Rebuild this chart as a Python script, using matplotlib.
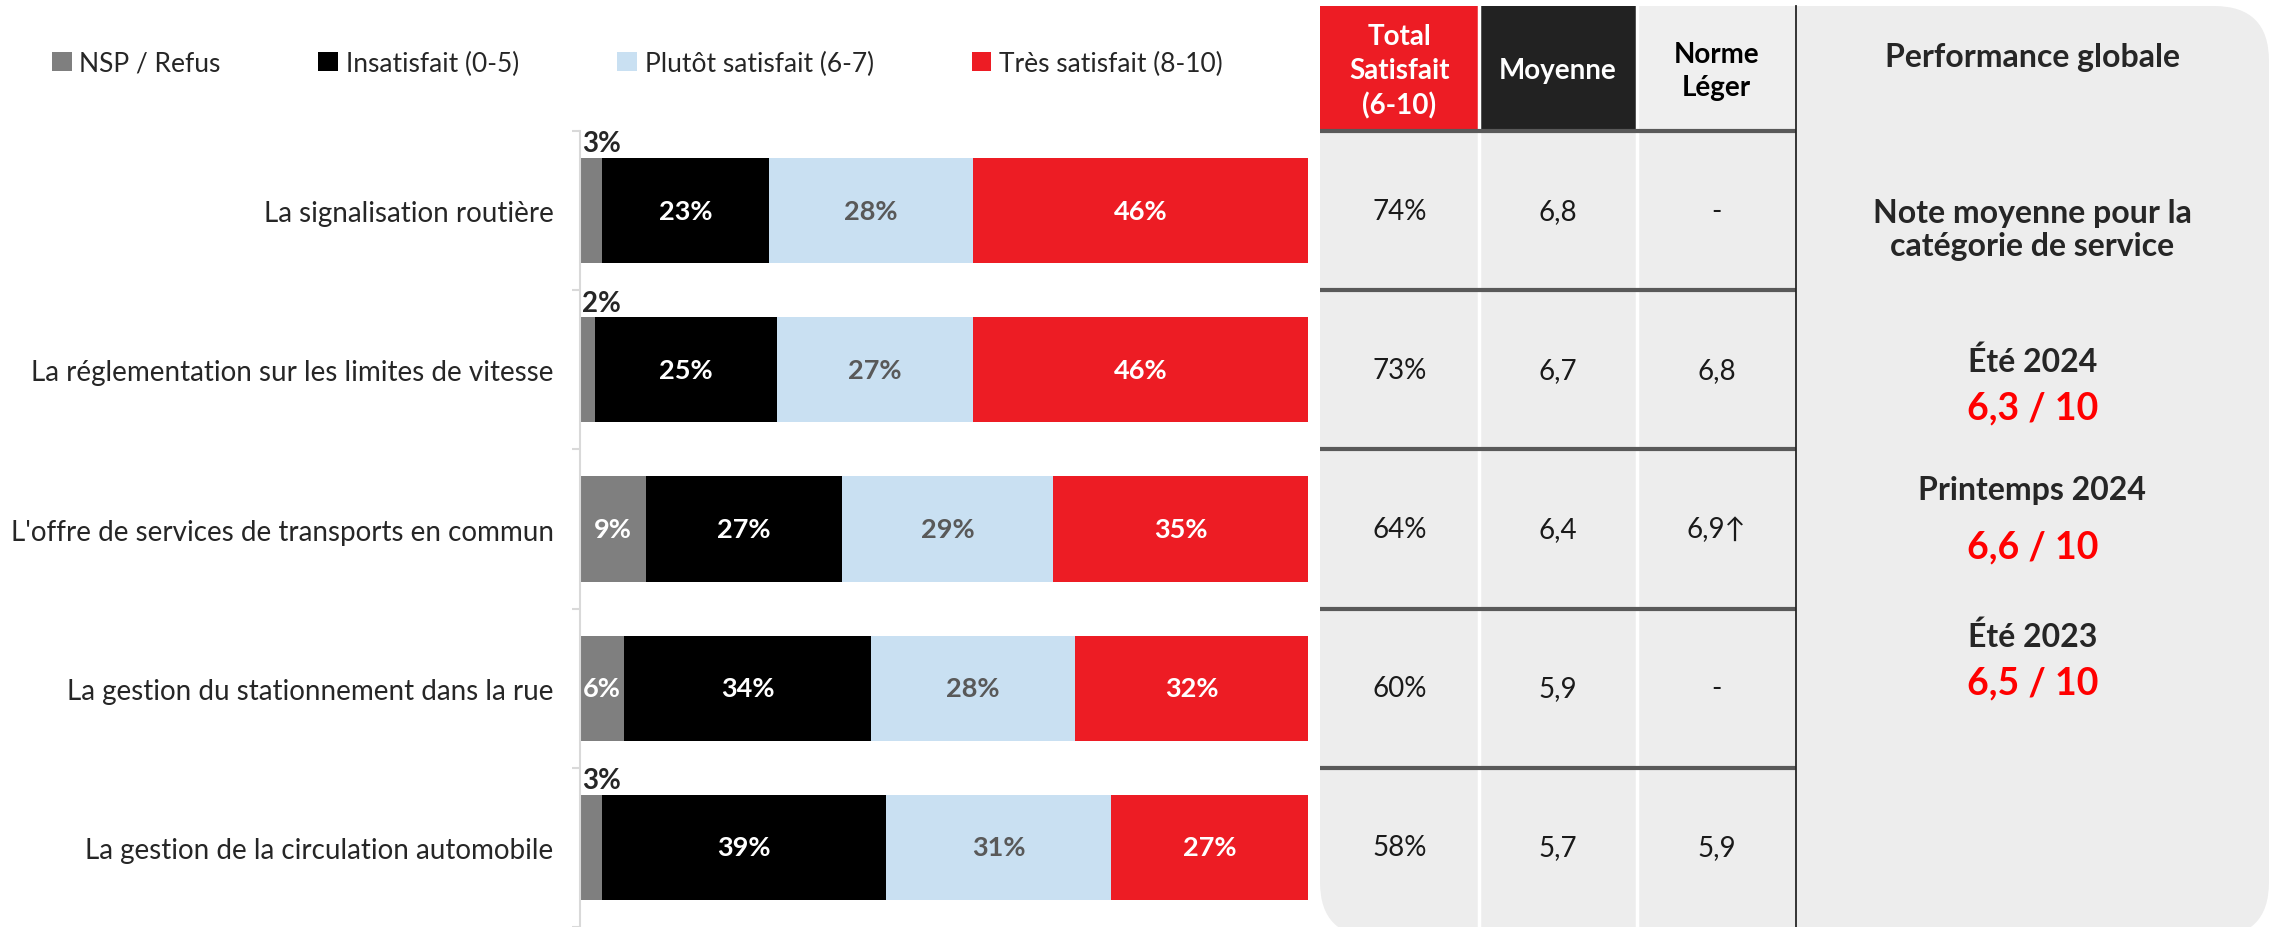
import numpy as np
import matplotlib.pyplot as plt
from matplotlib.patches import Rectangle, FancyBboxPatch

plt.rcParams['font.family'] = ['Lato', 'DejaVu Sans']

# data
categories = [
    "La signalisation routière",
    "La réglementation sur les limites de vitesse",
    "L'offre de services de transports en commun",
    "La gestion du stationnement dans la rue",
    "La gestion de la circulation automobile",
]
series_names = ["NSP / Refus", "Insatisfait (0-5)", "Plutôt satisfait (6-7)", "Très satisfait (8-10)"]
nsp = [3, 2, 9, 6, 3]
insatisfait = [23, 25, 27, 34, 39]
plutot = [28, 27, 29, 28, 31]
tres = [46, 46, 35, 32, 27]

col_headers = ["Total\nSatisfait\n(6-10)", "Moyenne", "Norme\nLéger"]
total_satisfait = ["74%", "73%", "64%", "60%", "58%"]
moyenne = ["6,8", "6,7", "6,4", "5,9", "5,7"]
norme = ["-", "6,8", "6,9↑", "-", "5,9"]

perf_title = "Performance globale"
perf_subtitle = "Note moyenne pour la\ncatégorie de service"
periods = ["Été 2024", "Printemps 2024", "Été 2023"]
scores = ["6,3 / 10", "6,6 / 10", "6,5 / 10"]

# styles
colors = ["#7F7F7F", "#000000", "#C9E0F2", "#ED1C24"]
label_colors = ["white", "white", "#595959", "white"]
RED = "#ED1C24"
BG = "#EDEDED"

W, H = 2269, 928
fig = plt.figure(figsize=(W / 100, H / 100), dpi=100)

# ---- table / right panel drawn in pixel coords ----
ax_t = fig.add_axes([0, 0, 1, 1])
ax_t.set_xlim(0, W)
ax_t.set_ylim(H, 0)
ax_t.axis("off")

tab_x0, tab_x1, panel_x1 = 1320, 1796, 2269
head_top, head_bot = 7, 132
row_h = (H - head_bot) / len(categories)
col_w = (tab_x1 - tab_x0) / 3

ax_t.add_patch(FancyBboxPatch((tab_x0 + 55, head_top + 55), panel_x1 - tab_x0 - 110,
                              H - head_top - 100,
                              boxstyle="round,pad=55", fc=BG, ec="none", zorder=0))

head_fc = [RED, "#222222", "#EFEFEF"]
head_tc = ["white", "white", "black"]
for j, txt in enumerate(col_headers):
    x = tab_x0 + j * col_w
    ax_t.add_patch(Rectangle((x, head_top), col_w, head_bot - head_top,
                             fc=head_fc[j], ec="none", zorder=1))
    ax_t.text(x + col_w / 2, (head_top + head_bot) / 2 + 2, txt, ha="center", va="center",
              color=head_tc[j], fontsize=20, fontweight="bold", linespacing=1.38, zorder=3)

# white column separators
for j in range(1, 3):
    x = tab_x0 + j * col_w
    ax_t.plot([x, x], [head_top, H], color="white", lw=2.5, zorder=2)

# dark row lines
for i in range(len(categories)):
    y = head_bot + i * row_h
    ax_t.plot([tab_x0, tab_x1], [y, y], color="#595959", lw=3, zorder=2,
              solid_capstyle="butt")

ax_t.plot([tab_x1, tab_x1], [head_top, H], color="#262626", lw=1.3, zorder=3)

for i, vals in enumerate(zip(total_satisfait, moyenne, norme)):
    yc = head_bot + (i + 0.5) * row_h
    for j, v in enumerate(vals):
        ax_t.text(tab_x0 + (j + 0.5) * col_w, yc, v, ha="center", va="center",
                  fontsize=20, color="#1A1A1A", zorder=3)

# right panel
pc = (tab_x1 + panel_x1) / 2
ax_t.text(pc, 58, perf_title, ha="center", va="center", fontsize=23,
          fontweight="bold", color="#262626")
ax_t.text(pc, 230, perf_subtitle, ha="center", va="center", fontsize=23,
          fontweight="bold", color="#262626", linespacing=1.2)
period_y = [362, 491, 637]
score_y = [408, 547, 683]
for p, s, py, sy in zip(periods, scores, period_y, score_y):
    ax_t.text(pc, py, p, ha="center", va="center", fontsize=23,
              fontweight="bold", color="#262626")
    ax_t.text(pc, sy, s, ha="center", va="center", fontsize=27,
              fontweight="bold", color="#FF0000")

# ---- stacked bars ----
ax = fig.add_axes([580 / W, 0, 728 / W, (H - head_bot) / H])
y = np.arange(len(categories))
left = np.zeros(len(categories))
handles = []
for k, (name, vals) in enumerate(zip(series_names, [nsp, insatisfait, plutot, tres])):
    vals = np.array(vals, dtype=float)
    bars = ax.barh(y, vals, left=left, height=0.66, color=colors[k], label=name)
    handles.append(bars)
    for i, v in enumerate(vals):
        if v < 5:
            ax.text(left[i] + 0.3, y[i] - 0.34, f"{v:.0f}%", ha="left", va="bottom",
                    fontsize=20, fontweight="bold", color="#262626")
        else:
            ax.text(left[i] + v / 2, y[i], f"{v:.0f}%", ha="center", va="center",
                    fontsize=19.5, fontweight="bold", color=label_colors[k])
    left += vals

ax.set_xlim(0, 100)
ax.set_ylim(len(categories) - 0.5, -0.5)
ax.set_yticks(y)
ax.set_yticklabels(categories, fontsize=20, color="#262626")
ax.set_yticks(np.arange(len(categories) + 1) - 0.5, minor=True)
ax.tick_params(axis="y", which="major", length=0, pad=19)
ax.tick_params(axis="y", which="minor", length=6, color="#D9D9D9", width=1.5)
ax.set_xticks([])
for s in ["top", "right", "bottom"]:
    ax.spines[s].set_visible(False)
ax.spines["left"].set_color("#D9D9D9")
ax.spines["left"].set_linewidth(1.5)

fig.legend(handles=handles, labels=series_names, loc="center left",
           bbox_to_anchor=(28 / W, 1 - 64 / H), ncol=4, frameon=False,
           fontsize=19, handlelength=0.75, handleheight=0.75, handletextpad=0.3,
           columnspacing=3.7, labelcolor="#262626")

fig.savefig("out.png", dpi=100)
